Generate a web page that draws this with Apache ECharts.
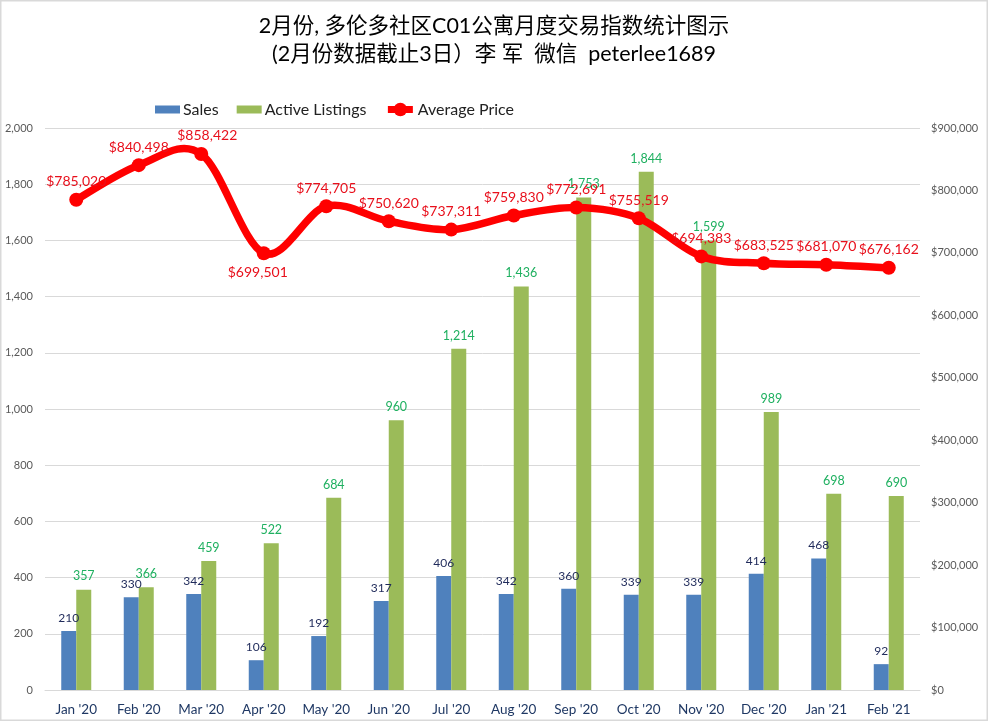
<!DOCTYPE html>
<html><head><meta charset="utf-8">
<style>html,body{margin:0;padding:0;background:#fff}#c{width:988px;height:721px}</style>
<script src="https://cdn.jsdelivr.net/npm/echarts@6/dist/echarts.min.js"></script>
</head><body><div id="c"></div>
<script>
const categories = ["Jan '20","Feb '20","Mar '20","Apr '20","May '20","Jun '20","Jul '20","Aug '20","Sep '20","Oct '20","Nov '20","Dec '20","Jan '21","Feb '21"];
const sales = [210,330,342,106,192,317,406,342,360,339,339,414,468,92];
const listings = [357,366,459,522,684,960,1214,1436,1753,1844,1599,989,698,690];
const prices = [785020,840498,858422,699501,774705,750620,737311,759830,772691,755519,694383,683525,681070,676162];
const priceLabelOffsets = [[0,0],[0,0],[6,0],[-6,37],[0,0],[0,0],[0,0],[0,0],[0,0],[0,0],[0,0],[0,0],[0,0],[0,0]];
const font = 'Lato, "Noto Sans CJK SC", sans-serif';
const barIcon = 'path://M0,0L0,0M0,4.5L25,4.5L25,12.5L0,12.5ZM0,17L0,17';
const chart = echarts.init(document.getElementById('c'));

// Excel-style smoothed line through the price points, placed by the axis scale
function renderPriceCurve(params, api) {
  if (params.dataIndex !== 0) return null;
  const pts = prices.map((v, i) => api.coord([i, v]));
  const n = pts.length;
  const children = [];
  for (let i = 0; i < n - 1; i++) {
    const p0 = pts[Math.max(i - 1, 0)], p1 = pts[i], p2 = pts[i + 1], p3 = pts[Math.min(i + 2, n - 1)];
    children.push({type:'bezierCurve',
      shape:{x1:p1[0],y1:p1[1],x2:p2[0],y2:p2[1],
        cpx1:p1[0]+(p2[0]-p0[0])/6,cpy1:p1[1]+(p2[1]-p0[1])/6,
        cpx2:p2[0]-(p3[0]-p1[0])/6,cpy2:p2[1]-(p3[1]-p1[1])/6},
      style:{fill:'none',stroke:'#ff0000',lineWidth:7.5,lineCap:'round'},silent:true});
  }
  return {type:'group',children};
}

chart.setOption({
  animation:false,
  backgroundColor:'#fff',
  graphic:[{type:'rect',shape:{x:0,y:0,width:988,height:721},style:{fill:'none',stroke:'#d9d9d9',lineWidth:3},silent:true}],
  title:{text:'2月份, 多伦多社区C01公寓月度交易指数统计图示\n(2月份数据截止3日）李 军  微信  peterlee1689',left:'center',top:7,
    textStyle:{fontFamily:font,fontSize:21.5,fontWeight:'normal',color:'#000',lineHeight:28}},
  legend:{top:96,left:150,itemWidth:25,itemHeight:17,itemGap:18,
    textStyle:{fontFamily:font,fontSize:16,color:'#222',padding:[0,0,0,-2]},
    data:[{name:'Sales',icon:barIcon},{name:'Active Listings',icon:barIcon},
      {name:'Average Price',lineStyle:{width:7,opacity:1,color:'#ff0000'},textStyle:{padding:[0,0,0,0]}}]},
  grid:{left:45,right:68,top:128,bottom:31},
  xAxis:{type:'category',data:categories,axisTick:{show:false},axisLine:{lineStyle:{color:'#d9d9d9'}},
    axisLabel:{fontFamily:font,fontSize:13.5,color:'#1f3864',margin:13,interval:0}},
  yAxis:[
    {type:'value',min:0,max:2000,interval:200,axisLine:{show:false},axisTick:{show:false},
     splitLine:{lineStyle:{color:'#d9d9d9'}},
     axisLabel:{fontFamily:font,fontSize:11,color:'#595959',margin:12,formatter:v=>v.toLocaleString('en-US')}},
    {type:'value',min:0,max:900000,interval:100000,position:'right',axisLine:{show:false},axisTick:{show:false},
     splitLine:{show:false},
     axisLabel:{fontFamily:font,fontSize:11,color:'#595959',margin:11,formatter:v=>'$'+v.toLocaleString('en-US')}}
  ],
  series:[
    {name:'Sales',type:'bar',data:sales,barWidth:15,barGap:'0%',itemStyle:{color:'#4f81bd'},
     label:{show:true,position:'top',distance:7,fontFamily:font,fontSize:12,color:'#1f2a5a'}},
    {name:'Active Listings',type:'bar',data:listings,barWidth:15,itemStyle:{color:'#9bbb59'},
     label:{show:true,position:'top',distance:7,fontFamily:font,fontSize:12.5,color:'#1fb060',
       formatter:p=>p.value.toLocaleString('en-US')}},
    {name:'Price Curve',type:'custom',yAxisIndex:1,data:prices,renderItem:renderPriceCurve,clip:false,z:4,silent:true,tooltip:{show:false}},
    {name:'Average Price',type:'line',yAxisIndex:1,
     data:prices.map((v,i)=>({value:v,label:{offset:priceLabelOffsets[i]}})),
     symbol:'circle',symbolSize:14,
     lineStyle:{color:'#ff0000',width:7,opacity:0},itemStyle:{color:'#ff0000'},
     label:{show:true,position:'top',distance:4,fontFamily:font,fontSize:14,color:'#e8101c',
       formatter:p=>'$'+p.value.toLocaleString('en-US')},z:5}
  ]
});
</script></body></html>
